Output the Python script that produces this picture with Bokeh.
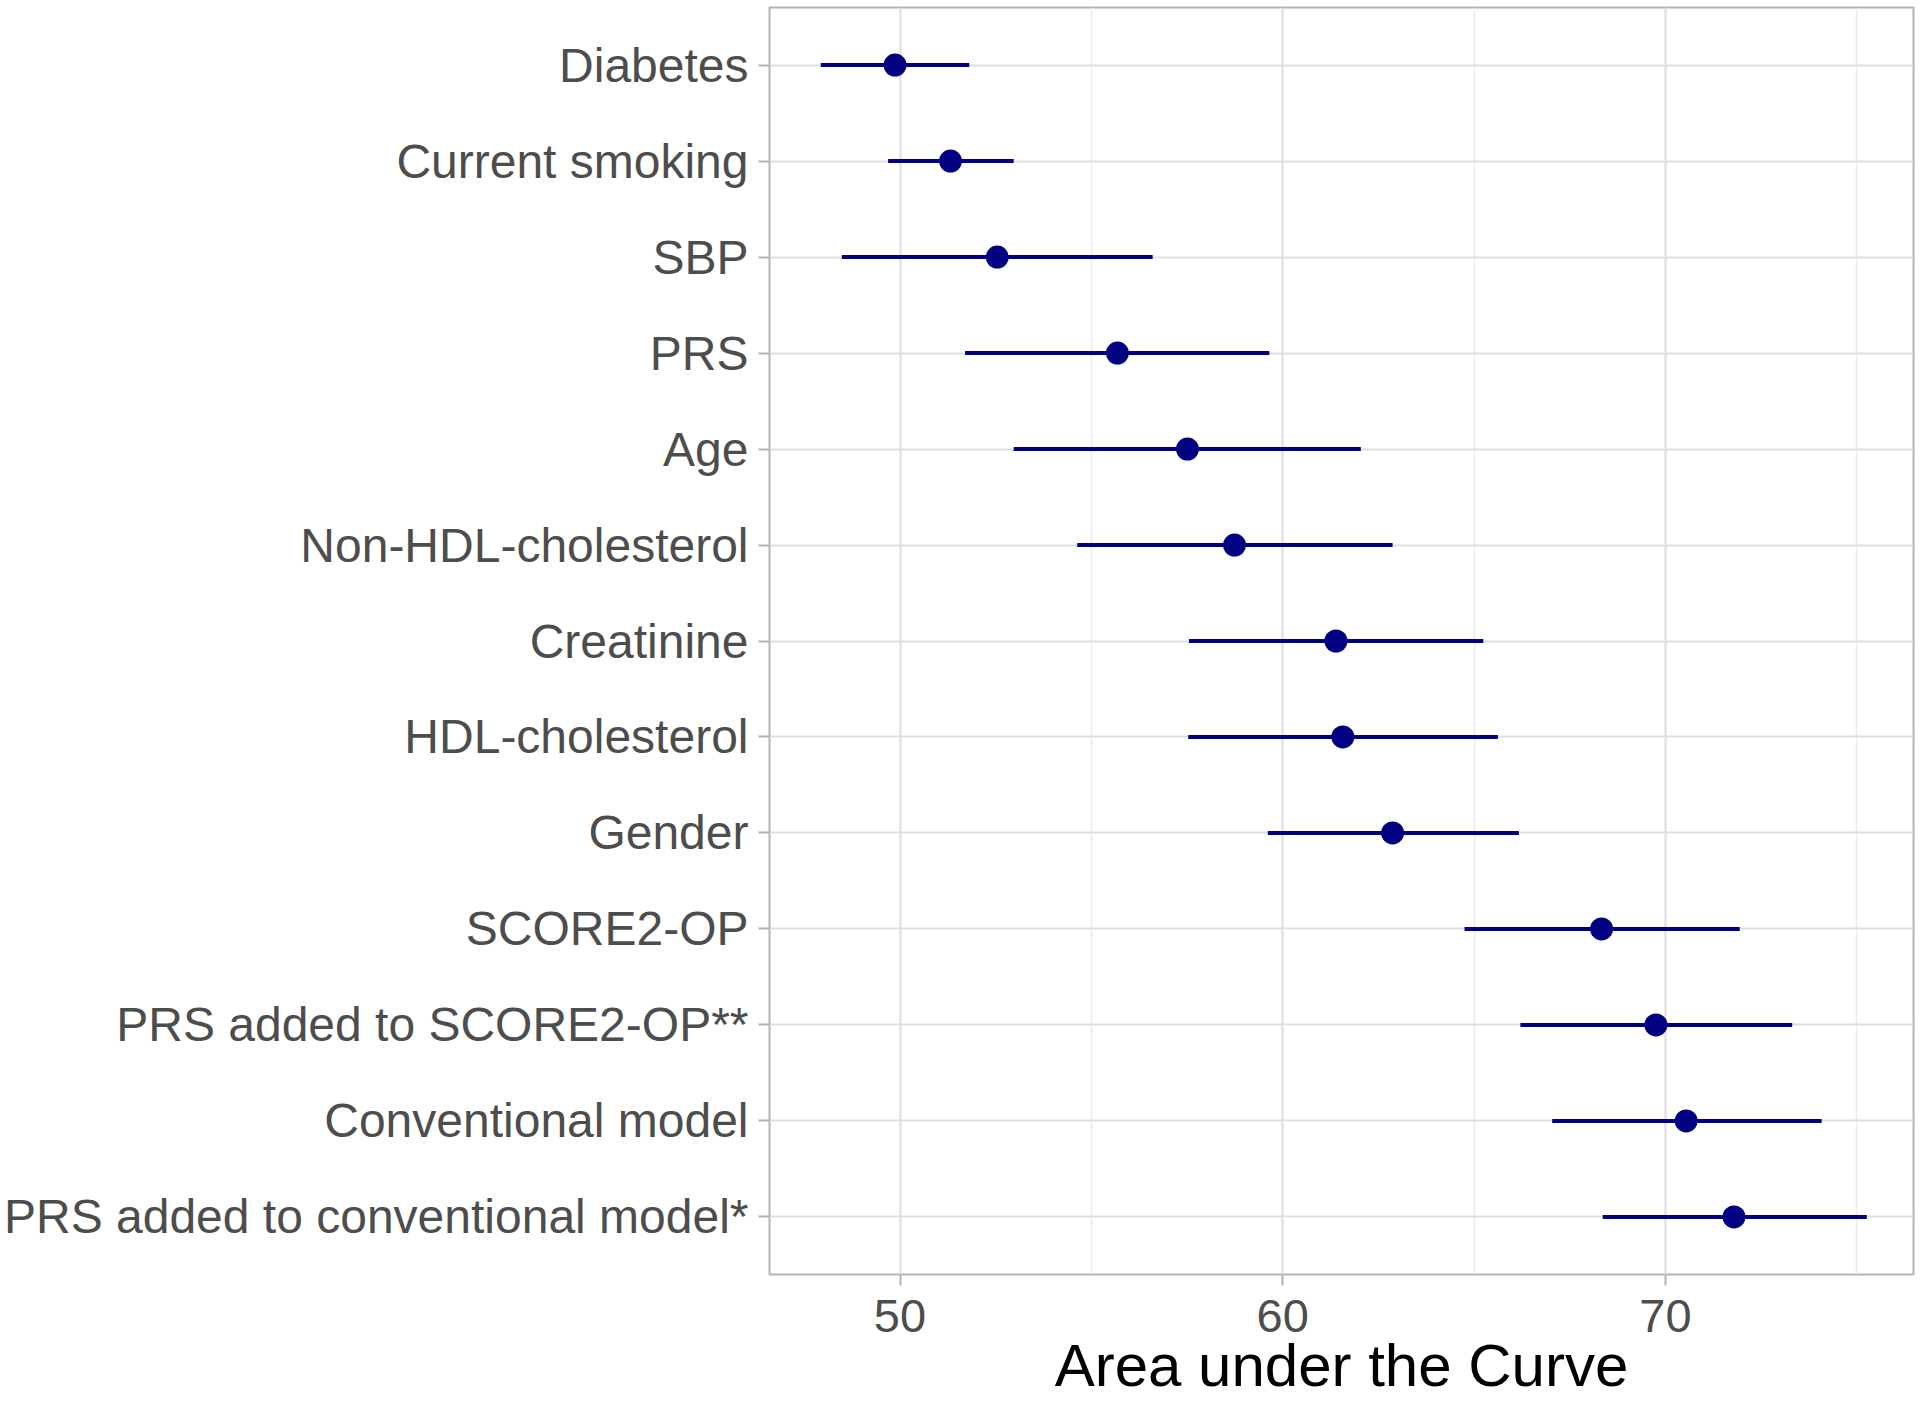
from bokeh.plotting import figure
from bokeh.models import ColumnDataSource, FactorRange, Range1d, SingleIntervalTicker
from bokeh.embed import file_html
from bokeh.resources import INLINE

# Data (top to bottom as displayed)
labels = [
    "Diabetes",
    "Current smoking",
    "SBP",
    "PRS",
    "Age",
    "Non-HDL-cholesterol",
    "Creatinine",
    "HDL-cholesterol",
    "Gender",
    "SCORE2-OP",
    "PRS added to SCORE2-OP**",
    "Conventional model",
    "PRS added to conventional model*",
]
auc = [49.87, 51.32, 52.54, 55.68, 57.51, 58.74, 61.39, 61.57, 62.87, 68.33, 69.75, 70.54, 71.79]
lower = [47.93, 49.69, 48.48, 51.70, 52.97, 54.63, 57.55, 57.53, 59.61, 64.75, 66.21, 67.04, 68.36]
upper = [51.81, 52.97, 56.60, 59.65, 62.04, 62.87, 65.24, 65.62, 66.17, 71.94, 73.31, 74.08, 75.26]
x_ticks_interval = 10
x_title = "Area under the Curve"

FONT = "Liberation Sans"
NAVY = "#000080"

p = figure(
    width=1920, height=1402,
    y_range=FactorRange(factors=labels[::-1], range_padding=0.1, range_padding_units="absolute"),
    x_range=Range1d(46.59, 76.48),
    output_backend="svg", toolbar_location=None,
    min_border_left=769, min_border_right=7, min_border_top=7, min_border_bottom=128,
)
p.background_fill_color = "white"
p.border_fill_color = "white"
p.outline_line_color = "#b3b3b3"
p.outline_line_width = 2

src = ColumnDataSource(dict(label=labels, auc=auc, lo=lower, hi=upper))
p.segment(x0="lo", x1="hi", y0="label", y1="label", source=src, line_color=NAVY, line_width=4)
p.scatter(x="auc", y="label", source=src, size=23, fill_color=NAVY, line_color=None)

# x axis
p.xaxis.ticker = SingleIntervalTicker(interval=x_ticks_interval, num_minor_ticks=2)
p.xaxis.axis_label = x_title
p.xaxis.axis_label_text_font = FONT
p.xaxis.axis_label_text_font_size = "60px"
p.xaxis.axis_label_text_font_style = "normal"
p.xaxis.axis_label_text_color = "black"
p.xaxis.axis_label_standoff = -3
p.xaxis.major_label_text_font = FONT
p.xaxis.major_label_text_font_size = "47px"
p.xaxis.major_label_text_color = "#4d4d4d"
p.xaxis.major_label_standoff = 14

# y axis
p.yaxis.major_label_text_font = FONT
p.yaxis.major_label_text_font_size = "48px"
p.yaxis.major_label_text_color = "#4d4d4d"
p.yaxis.major_label_standoff = 10

for ax in (p.xaxis, p.yaxis):
    ax.axis_line_color = None
    ax.major_tick_line_color = "#b3b3b3"
    ax.major_tick_line_width = 2
    ax.major_tick_out = 11
    ax.major_tick_in = 0
    ax.minor_tick_line_color = None

# grids
p.xgrid.grid_line_color = "#dedede"
p.xgrid.grid_line_width = 2
p.xgrid.minor_grid_line_color = "#ebebeb"
p.xgrid.minor_grid_line_width = 1.5
p.ygrid.grid_line_color = "#dedede"
p.ygrid.grid_line_width = 2

open("out.html", "w").write(file_html(p, INLINE))
